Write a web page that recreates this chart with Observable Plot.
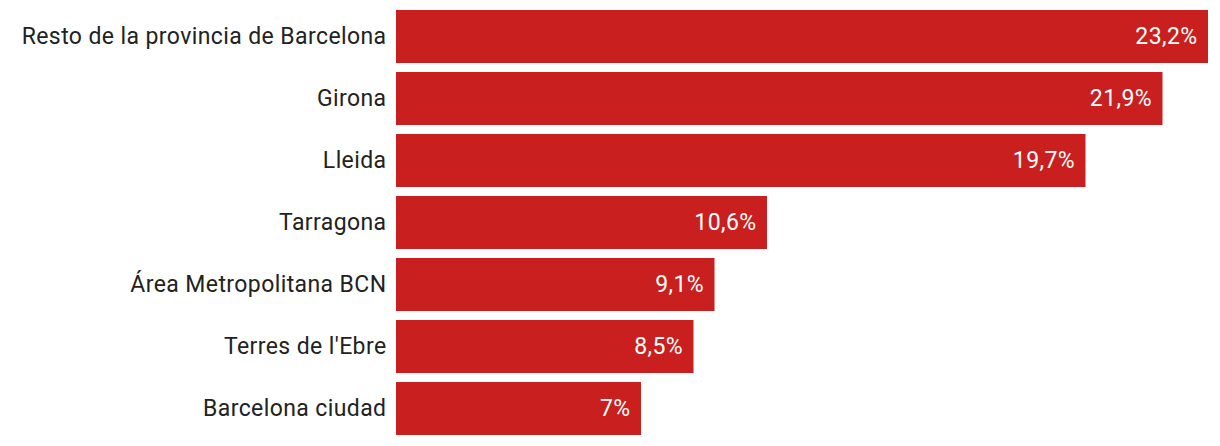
<!DOCTYPE html>
<html>
<head>
<meta charset="utf-8">
<script src="https://cdn.jsdelivr.net/npm/d3@7"></script>
<script src="https://cdn.jsdelivr.net/npm/@observablehq/plot@0.6"></script>
<style>
  html, body { margin: 0; padding: 0; background: #fff; }
  #chart svg { display: block; }
  #chart svg text { letter-spacing: 0.4px; }
</style>
</head>
<body>
<div id="chart"></div>
<script>
const categories = [
  "Resto de la provincia de Barcelona",
  "Girona",
  "Lleida",
  "Tarragona",
  "Área Metropolitana BCN",
  "Terres de l'Ebre",
  "Barcelona ciudad"
];
const values = [23.2, 21.9, 19.7, 10.6, 9.1, 8.5, 7];

const data = categories.map((c, i) => ({ region: c, value: values[i] }));
const fmt = v => String(v).replace(".", ",") + "%";

const chart = Plot.plot({
  width: 1220,
  height: 446,
  marginLeft: 396,
  marginRight: 12,
  marginTop: 10,
  marginBottom: 10,
  style: { fontFamily: "Roboto, sans-serif", fontSize: "23px", color: "#222", background: "#fff" },
  x: { domain: [0, 23.2], axis: null },
  y: { domain: categories, paddingInner: 0.138, paddingOuter: 0, label: null, tickSize: 0, tickPadding: 10 },
  marks: [
    Plot.barX(data, { x: "value", y: "region", fill: "#c91f1f" }),
    Plot.text(data, {
      x: "value", y: "region", text: d => fmt(d.value),
      textAnchor: "end", dx: -11, fill: "white", fontSize: 23
    }),
    Plot.axisY({ tickSize: 0, tickPadding: 10, fontSize: 23, label: null, color: "#222" })
  ]
});
document.getElementById("chart").appendChild(chart);
</script>
</body>
</html>
